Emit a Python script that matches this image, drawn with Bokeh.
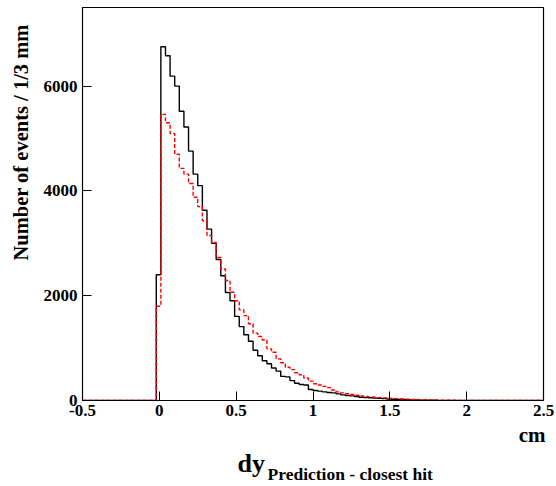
import numpy as np
from bokeh.plotting import figure
from bokeh.models import Label, FixedTicker, Range1d
from bokeh.layouts import column, row
from bokeh.embed import file_html
from bokeh.resources import INLINE

# histogram: 100 bins from -0.5 to 2.5 cm (bin width 0.03 cm); first filled bin index 16
x_lo, x_hi, n_bins = -0.5, 2.5, 100
first_bin = 16

black_counts = [2400, 6750, 6580, 6190, 6000, 5520, 5220, 4760, 4320, 4100,
                3630, 3270, 3000, 2690, 2380, 2060, 1905, 1605, 1410, 1255,
                1130, 960, 855, 760, 700, 620, 560, 460, 450, 380,
                330, 305, 295, 210, 190, 178, 165, 152, 146, 127,
                108, 95, 89, 76, 63, 58, 52, 45, 40, 35,
                30, 25, 22, 18, 15, 12, 10, 8, 6, 5,
                4, 3, 2, 2, 1]

red_counts = [1800, 5460, 5300, 5095, 4700, 4430, 4320, 4140, 3880, 3700,
              3430, 3150, 3015, 2730, 2510, 2290, 2065, 1905, 1730, 1620,
              1465, 1285, 1220, 1155, 985, 920, 795, 720, 635, 590,
              530, 490, 430, 370, 320, 295, 270, 245, 200, 165,
              145, 128, 115, 100, 85, 76, 70, 63, 55, 50,
              45, 40, 35, 30, 26, 22, 20, 17, 14, 12,
              10, 8, 6, 5, 4, 3, 2, 2, 1]

x_ticks = [-0.5, 0, 0.5, 1, 1.5, 2, 2.5]
y_ticks = [0, 2000, 4000, 6000]

y_title = "Number of events / 1/3 mm"
x_title_main = "dy"
x_title_sub = "Prediction - closest hit"
x_unit = "cm"

edges = np.linspace(x_lo, x_hi, n_bins + 1)


def full(counts):
    arr = np.zeros(n_bins)
    arr[first_bin:first_bin + len(counts)] = counts
    return np.append(arr, arr[-1])


FONT = "Liberation Serif"
LEFT_W = 40
TOP_H = 422
W, H = 556, 486


def blank(width, height):
    f = figure(width=width, height=height, output_backend="svg", toolbar_location=None,
               x_range=Range1d(0, width), y_range=Range1d(0, height),
               x_axis_type=None, y_axis_type=None,
               min_border_left=0, min_border_right=0, min_border_top=0,
               min_border_bottom=0)
    f.outline_line_color = None
    f.xgrid.grid_line_color = None
    f.ygrid.grid_line_color = None
    f.background_fill_color = "white"
    f.border_fill_color = "white"
    return f


def txt(x, y, text, size, **kw):
    return Label(x=x, y=y, text=text, text_font=FONT, text_font_style="bold",
                 text_font_size=size, text_color="black", **kw)


# ---- main histogram ----
p = figure(width=W - LEFT_W, height=TOP_H, output_backend="svg", toolbar_location=None,
           x_range=Range1d(x_lo, x_hi), y_range=Range1d(0, 7500),
           min_border_left=81 - LEFT_W, min_border_right=13, min_border_top=7,
           min_border_bottom=TOP_H - 400)
p.background_fill_color = "white"
p.border_fill_color = "white"
p.outline_line_color = "black"
p.outline_line_width = 1.2
p.xgrid.grid_line_color = None
p.ygrid.grid_line_color = None

p.step(edges, full(black_counts), mode="after", line_color="black", line_width=1.4)
p.step(edges, full(red_counts), mode="after", line_color="red", line_width=1.4,
       line_dash="4 2")

for ax in (p.xaxis[0], p.yaxis[0]):
    ax.major_tick_in = 9
    ax.major_tick_out = 0
    ax.minor_tick_line_color = None
    ax.axis_line_color = "black"
    ax.major_tick_line_color = "black"
    ax.major_label_text_font = FONT
    ax.major_label_text_font_style = "bold"
    ax.major_label_text_font_size = "17px"
    ax.major_label_text_color = "black"

p.xaxis.ticker = FixedTicker(ticks=x_ticks)
p.yaxis.ticker = FixedTicker(ticks=y_ticks)
p.xaxis.major_label_overrides = {-0.5: "-0.5", 0: "0", 0.5: "0.5", 1: "1",
                                 1.5: "1.5", 2: "2", 2.5: "2.5"}
p.xaxis.major_label_standoff = 4
p.yaxis.major_label_standoff = 5

# ---- left strip with the y title (top-aligned, ROOT style) ----
left = blank(LEFT_W, TOP_H)
left.add_layout(txt(20, TOP_H - 18, y_title, "20.5px", angle=np.pi / 2,
                    text_align="right", text_baseline="alphabetic"))

# ---- bottom strip with unit and x title ----
BOT_H = H - TOP_H
bottom = blank(W, BOT_H)
bottom.add_layout(txt(545, H - 434, x_unit, "21px",
                      text_align="right", text_baseline="alphabetic"))
bottom.add_layout(txt(237, H - 463, x_title_main, "26px",
                      text_align="left", text_baseline="alphabetic"))
bottom.add_layout(txt(267, H - 473, x_title_sub, "17.5px",
                      text_align="left", text_baseline="alphabetic"))

layout = column(row(left, p, spacing=0), bottom, spacing=0)

open("out.html", "w").write(file_html(layout, INLINE))
